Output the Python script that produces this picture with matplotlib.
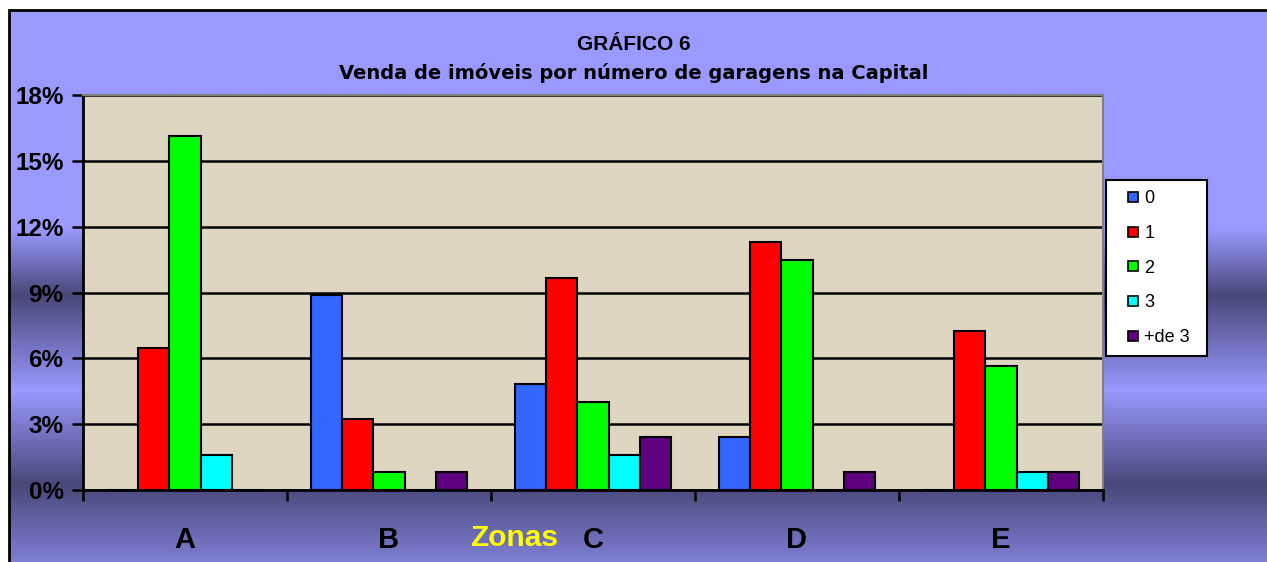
import numpy as np
import matplotlib
matplotlib.use("Agg")
import matplotlib.pyplot as plt
from matplotlib.patches import Rectangle
from matplotlib.lines import Line2D

plt.rcParams['font.family'] = ['Liberation Sans', 'DejaVu Sans']

# ---- data ----
zones = ['A', 'B', 'C', 'D', 'E']
series_names = ['0', '1', '2', '3', '+de 3']
s0 = [0.0, 8.87, 4.84, 2.42, 0.0]
s1 = [6.45, 3.23, 9.68, 11.29, 7.26]
s2 = [16.13, 0.81, 4.03, 10.48, 5.65]
s3 = [1.61, 0.0, 1.61, 0.0, 0.81]
s4 = [0.0, 0.81, 2.42, 0.81, 0.81]
series_values = [s0, s1, s2, s3, s4]
series_colors = ['#3366FF', '#FF0000', '#00FF00', '#00FFFF', '#5E0080']
yticks = [0, 3, 6, 9, 12, 15, 18]
title1 = 'GRÁFICO 6'
title2 = 'Venda de imóveis por número de garagens na Capital'
xlabel = 'Zonas'

W, H = 1267, 562
fig = plt.figure(figsize=(W / 100, H / 100), dpi=100)
fig.patch.set_facecolor('white')

# ---- background gradient (chart area) ----
bx0, by0 = 9, 10  # left / top in pixels
bg = fig.add_axes([bx0 / W, 0, 1 - bx0 / W, 1 - by0 / H], zorder=-10)
light = np.array([153, 153, 255]) / 255
dark = np.array([72, 72, 122]) / 255
stops_px = [10, 228, 295, 390, 483, 600]
stops_c = [light, light, dark, light, dark, light]
rows = np.arange(by0, H)
img = np.zeros((len(rows), 2, 3))
for ch in range(3):
    img[:, :, ch] = np.interp(rows, stops_px, [c[ch] for c in stops_c])[:, None]
bg.imshow(img, aspect='auto', extent=[0, 1, 0, 1], interpolation='bilinear')
bg.set_xlim(0, 1)
bg.set_ylim(0, 1)
bg.axis('off')
fig.add_artist(Rectangle((bx0 / W, -0.01), 1.01, 1 - by0 / H + 0.01,
                         transform=fig.transFigure, fill=False,
                         edgecolor='black', linewidth=2, zorder=5))

# ---- main axes ----
left, right, top, bottom = 83, 1103, 95, 490
ax = fig.add_axes([left / W, 1 - bottom / H, (right - left) / W, (bottom - top) / H])
ax.set_facecolor('#DFD6C2')

x = np.arange(len(zones))
bw = 0.152
for i, (vals, col, name) in enumerate(zip(series_values, series_colors, series_names)):
    ax.bar(x + (i - 2) * bw, vals, width=bw, color=col, edgecolor='black',
           linewidth=1.5, label=name, zorder=3)

ax.set_xlim(-0.5, len(zones) - 0.5)
ax.set_ylim(0, 18)
ax.set_yticks(yticks)
ax.set_yticklabels([f'{v}%' for v in yticks], fontsize=17.5, fontweight='bold')
ax.yaxis.grid(True, color='black', linewidth=1.8, zorder=1)
ax.set_axisbelow(True)

ax.set_xticks(x)
ax.set_xticklabels(zones, fontsize=21, fontweight='bold')
ax.set_xticks(np.arange(-0.5, len(zones), 1.0), minor=True)
ax.tick_params(axis='x', which='major', length=0, pad=26)
ax.tick_params(axis='x', which='minor', length=8, width=1.8, direction='out')
ax.tick_params(axis='y', which='major', length=8, width=1.8, direction='out', pad=6)

for s in ['left', 'bottom']:
    ax.spines[s].set_color('black')
    ax.spines[s].set_linewidth(2)
for s in ['top', 'right']:
    ax.spines[s].set_color('#808080')
    ax.spines[s].set_linewidth(1.5)

ax.set_xlabel(xlabel, fontsize=21.5, fontweight='bold', color='#FFFF00', va='center')
ax.xaxis.set_label_coords((514 - left) / (right - left), -(538 - bottom) / (bottom - top))

# ---- titles ----
fig.text(634 / W, 1 - 45 / H, title1, ha='center', va='center',
         fontsize=15, fontweight='bold')
fig.text(634 / W, 1 - 73 / H, title2, ha='center', va='center',
         fontsize=14, fontweight='bold', family=['DejaVu Sans'])

# ---- legend ----
handles = [Line2D([], [], linestyle='none', marker='s', markersize=7.5,
                  markerfacecolor=c, markeredgecolor='black', markeredgewidth=1.2)
           for c in series_colors]
lx0, lx1, ly0 = 1106, 1207, 181
leg = fig.legend(handles, series_names, loc='upper left',
                 bbox_to_anchor=(lx0 / W, 1 - ly0 / H, (lx1 - lx0) / W, 0.001),
                 bbox_transform=fig.transFigure, fontsize=13, mode='expand',
                 frameon=True, fancybox=False, framealpha=1,
                 edgecolor='black', facecolor='white',
                 labelspacing=0.98, handlelength=1.88, handletextpad=-0.3,
                 borderpad=0.55, borderaxespad=0)
leg.get_frame().set_linewidth(1.5)
leg.set_zorder(6)

fig.savefig('out.png', dpi=100)
